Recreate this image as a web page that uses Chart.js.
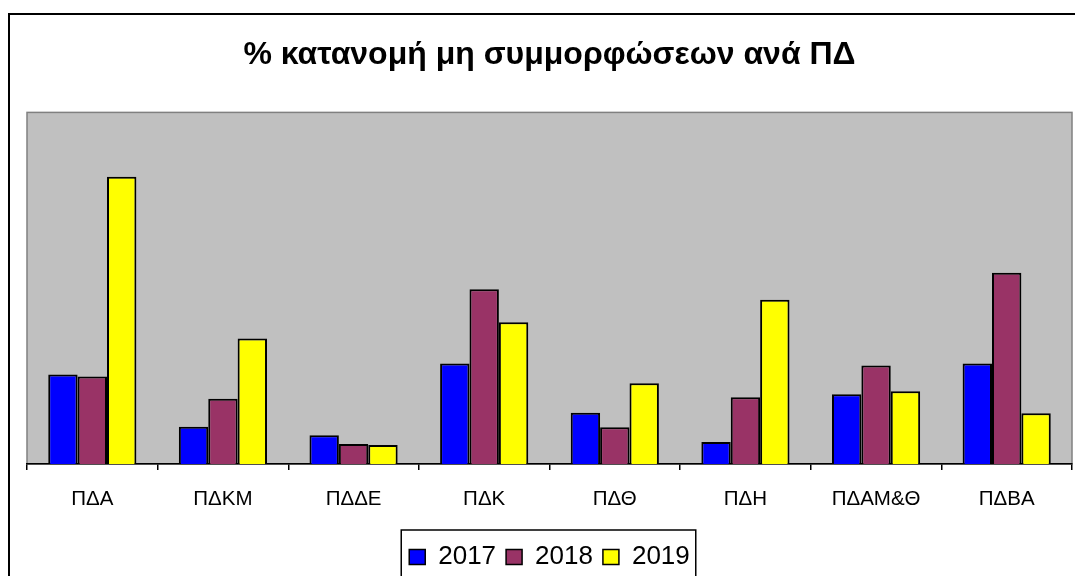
<!DOCTYPE html>
<html>
<head>
<meta charset="utf-8">
<script src="https://cdn.jsdelivr.net/npm/chart.js@4"></script>
<style>
    html, body {
        margin: 0;
        padding: 0;
        background: #fff;
        overflow: hidden;
    }
    .chart-frame {
        position: absolute;
        left: 8px;
        top: 13px;
        width: 1100px;
        height: 600px;
        border: 2px solid #000;
        box-sizing: border-box;
    }
    #chart {
        position: absolute;
        left: 0;
        top: 0;
    }
</style>
</head>
<body>
<div class="chart-frame"></div>
<canvas id="chart" width="1075" height="580"></canvas>
<script>
const categories = ["ΠΔΑ", "ΠΔΚΜ", "ΠΔΔΕ", "ΠΔΚ", "ΠΔΘ", "ΠΔΗ", "ΠΔΑΜ&Θ", "ΠΔΒΑ"];
const years = ["2017", "2018", "2019"];
const values2017 = [8.9, 3.7, 2.85, 10.0, 5.1, 2.2, 6.95, 10.0];
const values2018 = [8.7, 6.5, 2.0, 17.4, 3.65, 6.65, 9.8, 19.05];
const values2019 = [28.6, 12.5, 1.9, 14.1, 8.05, 16.35, 7.25, 5.05];
const seriesColors = ["#0000FF", "#993366", "#FFFF00"];
const yMax = 35;

const FONT = "'Liberation Sans', Arial, sans-serif";

// grey plot background with its thin border
const plotBackground = {
    id: "plotBackground",
    beforeDraw: (chart) => {
        const { ctx, chartArea } = chart;
        ctx.save();
        ctx.fillStyle = "#C0C0C0";
        ctx.fillRect(chartArea.left, chartArea.top, chartArea.width, chartArea.height);
        ctx.strokeStyle = "#808080";
        ctx.lineWidth = 1.5;
        ctx.strokeRect(chartArea.left, chartArea.top, chartArea.width, chartArea.height);
        ctx.restore();
    },
};

// box round the legend items
const legendBorder = {
    id: "legendBorder",
    afterDraw: (chart) => {
        const boxes = chart.legend.legendHitBoxes;
        if (!boxes || !boxes.length) return;
        const left = Math.min(...boxes.map((b) => b.left)) - 8;
        const right = Math.max(...boxes.map((b) => b.left + b.width)) + 6;
        const top = boxes[0].top - 14;
        const ctx = chart.ctx;
        ctx.save();
        ctx.strokeStyle = "#000";
        ctx.lineWidth = 1.5;
        ctx.strokeRect(left, top, right - left, 100);
        ctx.restore();
    },
};

const seriesValues = [values2017, values2018, values2019];
const datasets = years.map((year, i) => ({
    label: year,
    data: seriesValues[i],
    backgroundColor: seriesColors[i],
    borderColor: "#000",
    borderWidth: 2,
    categoryPercentage: 0.675,
    barPercentage: 1,
}));

new Chart(document.getElementById("chart").getContext("2d"), {
    type: "bar",
    data: { labels: categories, datasets: datasets },
    options: {
        responsive: false,
        animation: false,
        devicePixelRatio: 1,
        layout: { padding: { left: 27, right: 3, top: 0, bottom: 0 } },
        plugins: {
            title: {
                display: true,
                text: "% κατανομή μη συμμορφώσεων ανά ΠΔ",
                color: "#000",
                font: { family: FONT, size: 32, weight: "bold" },
                padding: { top: 36, bottom: 38 },
            },
            legend: {
                position: "bottom",
                labels: {
                    color: "#000",
                    font: { family: FONT, size: 26 },
                    boxWidth: 16,
                    boxHeight: 15,
                    padding: 10,
                    generateLabels: (chart) =>
                        chart.data.datasets.map((ds, i) => ({
                            text: ds.label,
                            fillStyle: ds.backgroundColor,
                            strokeStyle: "#000",
                            lineWidth: 1.5,
                            fontColor: "#000",
                            datasetIndex: i,
                        })),
                },
            },
            tooltip: { enabled: false },
        },
        scales: {
            x: {
                grid: {
                    display: true,
                    drawOnChartArea: false,
                    drawTicks: true,
                    tickLength: 6,
                    color: "#000",
                    lineWidth: 1.5,
                    offset: true,
                },
                border: { display: true, color: "#000", width: 1.5 },
                ticks: {
                    color: "#000",
                    font: { family: FONT, size: 20.5 },
                    padding: 17,
                    maxRotation: 0,
                },
                afterFit: (scale) => {
                    scale.height = 70;
                },
            },
            y: {
                display: false,
                min: 0,
                max: yMax,
            },
        },
    },
    plugins: [plotBackground, legendBorder],
});
</script>
</body>
</html>
